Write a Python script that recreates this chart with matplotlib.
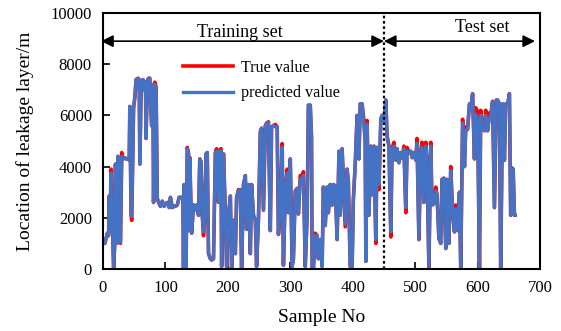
import matplotlib
matplotlib.use("Agg")
import matplotlib.pyplot as plt

plt.rcParams['font.family'] = ['Liberation Serif', 'DejaVu Serif']

sample_no = [
    0, 3, 5, 7, 9, 10, 11, 13, 14, 16, 17, 19, 20, 22, 24, 26, 28, 30, 32, 35,
    37, 40, 42, 43, 45, 46, 49, 51, 53, 56, 58, 59, 61, 62, 64, 66, 68, 69, 71, 73,
    75, 76, 78, 80, 81, 83, 85, 87, 90, 92, 95, 98, 100, 103, 106, 108, 111, 114, 116, 119,
    122, 124, 127, 128, 129, 130, 132, 133, 135, 137, 138,
    139, 142, 145, 147, 150, 153, 155, 157, 159, 161, 163, 165, 167, 169, 172, 174, 177, 180,
    182, 185, 186, 189, 190, 193, 196, 198, 201, 204, 206, 209, 212, 214, 217, 220, 222, 225,
    228, 230, 233, 236, 238, 241, 244, 246, 249, 252, 254, 257, 260, 262, 265, 268, 270, 273,
    276, 279, 281, 284, 287, 289, 292, 295, 297, 300, 303, 305, 308, 311, 313, 316, 319, 321,
    324, 327, 329, 332, 334, 335, 337, 340, 343, 345, 348, 351, 353, 356, 359, 361, 364, 367,
    369, 372, 375, 378, 380, 383, 385, 388, 391, 393, 396, 399, 401, 404, 407, 410, 412, 415,
    418, 420, 421, 423, 426, 429, 431, 434, 437, 439, 442, 445, 447, 450, 453, 455, 458, 461,
    463, 466, 469, 471, 474, 477, 479, 482, 485, 487, 490, 493, 495, 498, 501, 503, 506, 509,
    511, 514, 517, 519, 522, 525, 527, 530, 533, 535, 538, 541, 543, 546, 549, 551, 554, 557,
    560, 563, 565, 568, 571, 573, 576, 579, 581, 584, 587, 589, 592, 595, 597, 600, 603, 605,
    608, 611, 613, 616, 619, 621, 624, 627, 630, 632, 635, 637, 640, 643, 645, 648, 651, 653,
    655, 657, 659, 660,
]

true_value = [
    1000, 1000, 1200, 1400, 1300, 2850, 1500, 3900, 2900, 1000, 0, 1100, 4100, 1000, 4400, 1100, 1000, 4550, 4300, 4350,
    4300, 4300, 4250, 6350, 2100, 1900, 6300, 6700, 7400, 7450, 7400, 4100, 6900, 7100, 7400, 7000, 7300, 5100, 7350, 7450,
    7450, 6500, 5600, 7200, 2600, 7300, 7100, 2750, 2550, 2450, 2650, 2450, 2550, 2600, 2400, 2800, 2400, 2450, 2450, 2500,
    2800, 2800, 2800, 2800, 0, 3300, 2000, 0, 4750, 4500, 1500,
    4350, 1400, 2500, 2300, 2500, 2100, 4300, 4200, 2100, 1300, 2000, 4500, 4550, 600, 400, 350, 400, 4550,
    4700, 2600, 4600, 4700, 100, 4500, 2200, 100, 2100, 2850, 0, 1900, 600, 2800, 3100, 3100, 0, 3300,
    3650, 1550, 3300, 600, 3300, 2100, 1900, 100, 1950, 5350, 5500, 2300, 5600, 5700, 5750, 1500, 5550, 5600,
    5650, 5550, 1350, 2350, 4900, 150, 3050, 3900, 2200, 4300, 100, 400, 3050, 3150, 2150, 3650, 3550, 3800,
    100, 2100, 6400, 6400, 5150, 0, 0, 1400, 1300, 400, 1150, 100, 3200, 1700, 3200, 2200, 3300, 2500,
    3300, 3250, 1150, 4600, 2100, 4700, 3500, 1650, 3900, 3400, 100, 0, 2700, 4100, 6000, 4300, 6450, 6450,
    5800, 5000, 300, 5800, 2100, 4800, 2900, 4800, 1000, 4750, 3100, 5850, 6000, 5800, 6600, 5200, 4800, 1250,
    4700, 4950, 4250, 4700, 4150, 4550, 4350, 4800, 2200, 4750, 4550, 4600, 4350, 4550, 4250, 5100, 1150, 4650,
    4950, 2600, 4950, 4250, 0, 4950, 2500, 2550, 3200, 2900, 1200, 1000, 3500, 3550, 800, 3500, 1000, 4000,
    2200, 1450, 2500, 1500, 3000, 0, 5850, 4000, 5550, 5450, 6450, 6200, 6850, 4300, 6300, 6150, 0, 6200,
    5500, 5400, 6200, 5400, 6100, 5950, 6550, 2400, 6600, 6600, 6450, 0, 6450, 4250, 6450, 6400, 6850, 2100,
    3950, 3900, 2100, 2100,
]

predicted_value = [
    1000, 1000, 1200, 1400, 1300, 2850, 1500, 3750, 2900, 1000, 0, 1100, 4100, 1000, 4400, 1100, 1050, 4400, 4300, 4350,
    4300, 4300, 4250, 6350, 2100, 2050, 6300, 6700, 7400, 7450, 7400, 4100, 6900, 7100, 7400, 7000, 7300, 5100, 7350, 7450,
    7450, 6500, 5600, 7200, 2600, 7200, 7100, 2750, 2550, 2450, 2650, 2450, 2550, 2600, 2400, 2800, 2400, 2450, 2450, 2500,
    2800, 2800, 2800, 2800, 0, 3300, 2000, 0, 4700, 4500, 1500,
    4300, 1400, 2500, 2300, 2500, 2100, 4300, 4200, 2100, 1450, 2000, 4500, 4550, 600, 400, 350, 400, 4550,
    4600, 2600, 4600, 4600, 100, 4500, 2200, 100, 2100, 2850, 0, 1900, 600, 2800, 3050, 3100, 0, 3300,
    3650, 1550, 3300, 600, 3300, 2100, 1900, 100, 1950, 5350, 5500, 2300, 5600, 5700, 5700, 1500, 5550, 5600,
    5550, 5550, 1350, 2350, 4750, 150, 3050, 3750, 2200, 4300, 100, 400, 3050, 3150, 2150, 3500, 3550, 3650,
    100, 2100, 6400, 6400, 5150, 0, 0, 1300, 1300, 400, 1150, 100, 3200, 1700, 3200, 2200, 3300, 2500,
    3300, 3250, 1150, 4600, 2100, 4700, 3500, 1750, 3900, 3400, 100, 0, 2700, 4100, 6000, 4300, 6450, 6450,
    5550, 5000, 300, 5650, 2100, 4800, 2900, 4800, 1150, 4750, 3300, 5850, 6000, 5800, 6600, 5200, 4800, 1450,
    4700, 4800, 4250, 4700, 4150, 4550, 4350, 4700, 2400, 4600, 4550, 4600, 4350, 4550, 4250, 4900, 1150, 4650,
    4750, 2600, 4800, 4250, 0, 4800, 2500, 2550, 3050, 2900, 1200, 1000, 3500, 3550, 800, 3500, 1000, 3850,
    2200, 1450, 2350, 1500, 3000, 0, 5700, 4000, 5400, 5450, 6450, 6200, 6850, 4300, 6050, 5850, 0, 6000,
    5500, 5400, 6000, 5400, 5900, 5950, 6550, 2400, 6600, 6600, 6450, 0, 6450, 4250, 6450, 6400, 6850, 2100,
    3800, 3900, 2100, 2100,
]

x_ticks = [0, 100, 200, 300, 400, 500, 600, 700]
y_ticks = [0, 2000, 4000, 6000, 8000, 10000]
split_sample = 450

fig = plt.figure(figsize=(5.61, 3.31), dpi=100)
ax = fig.add_axes([0.1836, 0.1873, 0.7790, 0.7734])

ax.plot(sample_no, true_value, color='#FF0000', lw=2.6, label='True value')
ax.plot(sample_no, predicted_value, color='#4472C4', lw=2.4, label='predicted value')

ax.set_xlim(0, 700)
ax.set_ylim(0, 10000)
ax.set_xticks(x_ticks)
ax.set_yticks(y_ticks)
ax.tick_params(direction='in', labelsize=12, width=1.2, length=5, pad=8)
for s in ax.spines.values():
    s.set_linewidth(1.5)

ax.axvline(split_sample, color='black', ls=(0, (1.2, 1.2)), lw=1.6)

ax.annotate('', xy=(-3, 8900), xytext=(split_sample, 8900),
            arrowprops=dict(arrowstyle='<|-|>', color='black', lw=1.2, mutation_scale=18,
                            shrinkA=0, shrinkB=0), annotation_clip=False)
ax.annotate('', xy=(split_sample, 8900), xytext=(692, 8900),
            arrowprops=dict(arrowstyle='<|-|>', color='black', lw=1.2, mutation_scale=18,
                            shrinkA=0, shrinkB=0), annotation_clip=False)
ax.text(220, 9250, 'Training set', ha='center', va='center', fontsize=13)
ax.text(608, 9450, 'Test set', ha='center', va='center', fontsize=13)

ax.set_xlabel('Sample No', fontsize=14, labelpad=9)
ax.set_ylabel('Location of leakage layer/m', fontsize=14, labelpad=12)

ax.legend(loc='upper left', bbox_to_anchor=(0.15, 0.875), frameon=False, fontsize=11.6,
          handlelength=3.1, handletextpad=0.5, labelspacing=0.6)

fig.savefig('out.png', dpi=100)
